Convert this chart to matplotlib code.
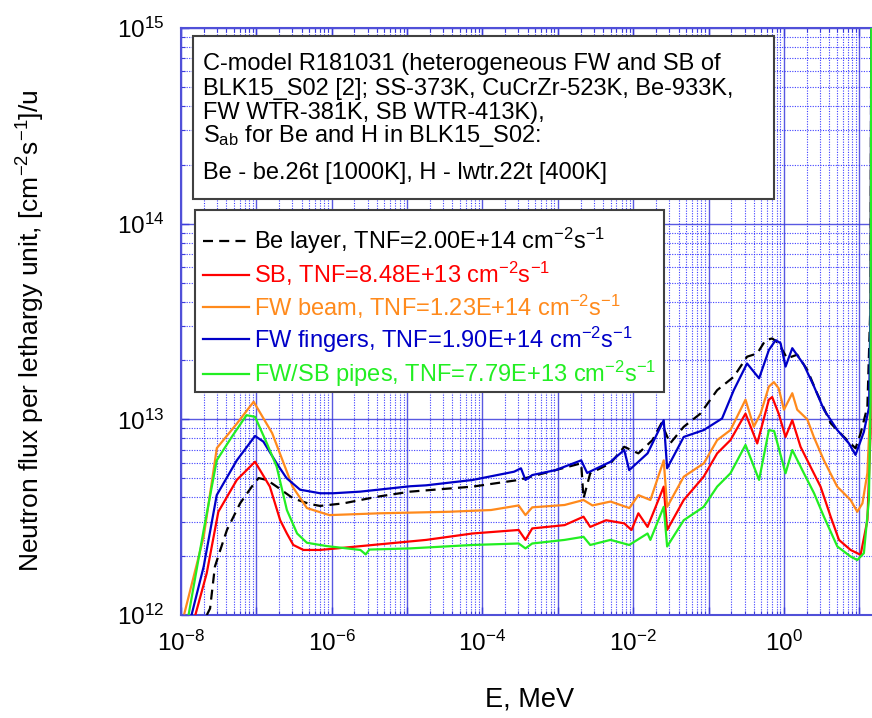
import numpy as np
import matplotlib
matplotlib.use("Agg")
import matplotlib.pyplot as plt
from matplotlib.ticker import LogLocator, FuncFormatter, NullFormatter
from matplotlib.patches import Rectangle
import math

plt.rcParams['font.family'] = ['Liberation Sans', 'DejaVu Sans']
plt.rcParams['mathtext.fontset'] = 'custom'
plt.rcParams['mathtext.rm'] = 'Liberation Sans'
plt.rcParams['mathtext.it'] = 'Liberation Sans:italic'
plt.rcParams['mathtext.bf'] = 'Liberation Sans:bold'

# ---------------- data (E in MeV, flux per lethargy in cm^-2 s^-1) ----------------
be_E = [2.2e-8, 2.43e-8, 2.82e-8, 3.31e-8, 4.07e-8, 6.08e-8, 8.7e-8, 1.07e-7, 1.38e-7, 1.86e-7,
        3.09e-7, 5.13e-7, 7.0e-7, 1.43e-6, 3.98e-6, 1.10e-5, 7.4e-5, 3.02e-4, 9.3e-4, 2.04e-3,
        2.19e-3, 2.69e-3, 5.0e-3, 7.6e-3, 1.17e-2, 1.80e-2, 2.37e-2, 3.09e-2, 4.68e-2, 7.8e-2,
        0.130, 0.216, 0.324, 0.442, 0.569, 0.698, 0.851, 1.10, 1.50, 2.04,
        2.75, 4.17, 6.25, 8.91, 10.4, 12.8, 14.1, 14.5]
be_F = [1.0e12, 1.08e12, 1.77e12, 2.14e12, 2.72e12, 3.72e12, 4.53e12, 5.01e12, 4.90e12, 4.53e12,
        3.94e12, 3.69e12, 3.61e12, 3.72e12, 4.02e12, 4.27e12, 4.53e12, 4.90e12, 5.50e12, 5.96e12,
        3.94e12, 5.30e12, 5.96e12, 7.24e12, 6.70e12, 7.83e12, 9.55e12, 7.53e12, 9.16e12, 1.07e13,
        1.41e13, 1.65e13, 2.09e13, 2.17e13, 2.54e13, 2.59e13, 2.45e13, 2.05e13, 2.14e13, 1.79e13,
        1.36e13, 9.55e12, 8.13e12, 7.11e12, 8.47e12, 1.16e13, 4.07e13, 3e15]

sb_E = [1.55e-8, 2.19e-8, 3.13e-8, 5.5e-8, 9.6e-8, 1.51e-7, 2.07e-7, 2.54e-7, 3.09e-7, 4.21e-7,
        7.0e-7, 1.17e-6, 1.79e-5, 7.4e-5, 3.02e-4, 3.72e-4, 4.57e-4, 1.23e-3, 2.19e-3, 2.69e-3,
        4.37e-3, 7.6e-3, 9.5e-3, 1.17e-2, 1.55e-2, 1.91e-2, 2.54e-2, 2.82e-2, 4.68e-2, 8.6e-2,
        0.130, 0.195, 0.309, 0.442, 0.631, 0.698, 0.851, 1.05, 1.29, 1.66,
        2.25, 3.06, 4.17, 5.37, 7.66, 10.4, 12.8, 14.1, 14.5]
sb_F = [1.0e12, 1.63e12, 3.37e12, 4.90e12, 6.07e12, 4.53e12, 3.05e12, 2.61e12, 2.28e12, 2.15e12,
        2.15e12, 2.19e12, 2.42e12, 2.61e12, 2.72e12, 2.42e12, 2.77e12, 2.88e12, 3.18e12, 2.82e12,
        3.05e12, 2.94e12, 2.72e12, 3.31e12, 2.82e12, 3.44e12, 4.53e12, 2.72e12, 3.87e12, 5.09e12,
        6.70e12, 7.83e12, 1.07e13, 7.53e12, 1.26e13, 1.30e13, 1.07e13, 8.13e12, 9.9e12, 7.24e12,
        5.73e12, 4.53e12, 3.18e12, 2.42e12, 2.15e12, 2.03e12, 3.05e12, 8.51e12, 3e15]

beam_E = [1.11e-8, 2.0e-8, 2.99e-8, 5.5e-8, 9.2e-8, 1.62e-7, 3.02e-7, 4.68e-7, 9.3e-7, 4.37e-6,
          3.63e-5, 1.30e-4, 3.02e-4, 3.72e-4, 4.57e-4, 1.23e-3, 2.19e-3, 2.88e-3, 5.0e-3, 8.9e-3,
          1.17e-2, 1.69e-2, 2.54e-2, 2.82e-2, 4.68e-2, 8.65e-2, 0.130, 0.195, 0.309, 0.398,
          0.490, 0.631, 0.735, 0.851, 1.0, 1.29, 1.50, 2.04, 2.49, 3.39,
          5.09, 7.66, 9.40, 11.0, 12.8, 14.1, 14.5]
beam_F = [1.02e12, 2.51e12, 7.13e12, 9.5e12, 1.23e13, 8.5e12, 4.53e12, 3.52e12, 3.24e12, 3.31e12,
          3.37e12, 3.44e12, 3.63e12, 3.24e12, 3.55e12, 3.65e12, 3.87e12, 3.63e12, 3.80e12, 3.52e12,
          4.10e12, 3.87e12, 6.17e12, 3.57e12, 5.09e12, 5.96e12, 7.83e12, 8.81e12, 1.26e13, 9.16e12,
          1.07e13, 1.47e13, 1.55e13, 1.44e13, 1.12e13, 1.36e13, 1.12e13, 1.0e13, 8.13e12, 6.17e12,
          4.53e12, 3.87e12, 3.37e12, 3.72e12, 5.32e12, 1.26e13, 3e15]

fing_E = [1.38e-8, 2.0e-8, 2.98e-8, 5.5e-8, 9.6e-8, 1.24e-7, 1.86e-7, 2.51e-7, 3.80e-7, 7.0e-7,
          1.05e-6, 2.38e-6, 1.10e-5, 1.79e-5, 7.4e-5, 2.63e-4, 3.24e-4, 3.72e-4, 4.57e-4, 9.3e-4,
          2.04e-3, 2.45e-3, 5.0e-3, 7.6e-3, 8.85e-3, 1.55e-2, 2.54e-2, 2.82e-2, 4.68e-2, 8.6e-2,
          0.151, 0.216, 0.324, 0.468, 0.631, 0.776, 0.902, 1.05, 1.29, 1.84,
          2.51, 3.39, 5.11, 7.29, 8.91, 11.5, 13.5, 14.1, 14.5]
fing_F = [1.0e12, 1.77e12, 4.10e12, 6.17e12, 8.22e12, 7.69e12, 5.96e12, 5.01e12, 4.37e12, 4.19e12,
          4.19e12, 4.27e12, 4.55e12, 4.6e12, 4.90e12, 5.40e12, 5.62e12, 4.90e12, 5.19e12, 5.50e12,
          6.17e12, 5.32e12, 6.07e12, 6.97e12, 5.50e12, 6.70e12, 9.9e12, 5.62e12, 8.13e12, 8.81e12,
          1.01e13, 1.41e13, 1.93e13, 1.62e13, 2.26e13, 2.54e13, 2.45e13, 1.86e13, 2.31e13, 1.90e13,
          1.47e13, 1.12e13, 8.81e12, 7.53e12, 6.58e12, 8.63e12, 1.16e13, 4.07e13, 3e15]

pipe_E = [1.26e-8, 2.0e-8, 2.98e-8, 4.71e-8, 7.4e-8, 9.6e-8, 1.38e-7, 1.86e-7, 2.54e-7, 3.47e-7,
          4.68e-7, 8.6e-7, 2.40e-6, 2.82e-6, 3.16e-6, 1.10e-5, 7.4e-5, 3.02e-4, 3.72e-4, 4.57e-4,
          1.23e-3, 2.19e-3, 2.69e-3, 5.0e-3, 8.85e-3, 1.55e-2, 1.69e-2, 2.54e-2, 2.82e-2, 4.68e-2,
          8.6e-2, 0.130, 0.195, 0.309, 0.468, 0.631, 0.741, 1.05, 1.29, 1.84,
          2.51, 3.39, 5.11, 7.66, 9.40, 11.5, 13.4, 14.1, 14.5]
pipe_F = [1.0e12, 2.72e12, 6.17e12, 8.13e12, 1.05e13, 1.03e13, 7.53e12, 5.73e12, 3.44e12, 2.61e12,
          2.34e12, 2.25e12, 2.15e12, 2.04e12, 2.16e12, 2.19e12, 2.28e12, 2.32e12, 2.19e12, 2.32e12,
          2.42e12, 2.51e12, 2.28e12, 2.42e12, 2.28e12, 2.61e12, 2.42e12, 3.57e12, 2.24e12, 3.05e12,
          3.57e12, 4.53e12, 5.30e12, 7.40e12, 4.90e12, 8.81e12, 8.71e12, 5.30e12, 6.97e12, 5.30e12,
          4.19e12, 3.18e12, 2.24e12, 1.99e12, 1.91e12, 2.07e12, 3.87e12, 1.26e13, 3e15]

labels = [r'Be layer, TNF=2.00E+14 cm$^{-2}$s$^{-1}$',
          r'SB, TNF=8.48E+13 cm$^{-2}$s$^{-1}$',
          r'FW beam, TNF=1.23E+14 cm$^{-2}$s$^{-1}$',
          r'FW fingers, TNF=1.90E+14 cm$^{-2}$s$^{-1}$',
          r'FW/SB pipes, TNF=7.79E+13 cm$^{-2}$s$^{-1}$']

info_lines = ['C-model R181031 (heterogeneous FW and SB of',
              'BLK15_S02 [2]; SS-373K, CuCrZr-523K, Be-933K,',
              'FW WTR-381K, SB WTR-413K),',
              r'S$_{\mathregular{ab}}$ for Be and H in BLK15_S02:',
              'Be - be.26t [1000K], H - lwtr.22t [400K]']

x_lim = (1e-8, 2e1)
y_lim = (1e12, 1e15)

# ---------------- figure ----------------
W, H = 872, 718
fig = plt.figure(figsize=(W / 100, H / 100), dpi=100)
ax = fig.add_axes([181 / W, (H - 615) / H, 701 / W, 587 / H])

def fx(px):
    return px / W

def fy(py):
    return 1 - py / H

ax.set_xscale('log')
ax.set_yscale('log')
ax.set_xlim(*x_lim)
ax.set_ylim(*y_lim)

lw = 1.6
series = [
    (be_E, be_F, 'black', (0, (4.5, 2.8))),
    (sb_E, sb_F, '#ff0000', '-'),
    (beam_E, beam_F, '#ff8a1c', '-'),
    (fing_E, fing_F, '#0000c8', '-'),
    (pipe_E, pipe_F, '#22ee22', '-'),
]
handles = []
for (e, f, c, ls), lab in zip(series, labels):
    h, = ax.plot(e, f, color=c, ls=ls, lw=lw, label=lab, zorder=3)
    handles.append(h)

# ticks / grid
ax.xaxis.set_major_locator(LogLocator(base=10, numticks=30))
ax.xaxis.set_minor_locator(LogLocator(base=10, subs=np.arange(2, 10), numticks=300))
ax.yaxis.set_major_locator(LogLocator(base=10, numticks=30))
ax.yaxis.set_minor_locator(LogLocator(base=10, subs=np.arange(2, 10), numticks=300))

def xfmt(v, pos):
    e = int(round(math.log10(v)))
    if e % 2 == 0 and -8 <= e <= 0:
        return r'$\mathregular{10^{%d}}$' % e
    return ''

def yfmt(v, pos):
    e = int(round(math.log10(v)))
    return r'$\mathregular{10^{%d}}$' % e

ax.xaxis.set_major_formatter(FuncFormatter(xfmt))
ax.yaxis.set_major_formatter(FuncFormatter(yfmt))
ax.xaxis.set_minor_formatter(NullFormatter())
ax.yaxis.set_minor_formatter(NullFormatter())

grid_c = '#3c3cdc'
ax.grid(which='major', color=grid_c, lw=1.0, ls='-', alpha=0.85, zorder=1)
ax.grid(which='minor', color='#2a2aff', lw=0.8, ls=(0, (1, 1.3)), alpha=0.9, zorder=1)
ax.set_axisbelow(True)

ax.tick_params(which='both', direction='in', top=True, right=True, color=grid_c)
ax.tick_params(which='major', length=6, width=1.0, labelsize=17.5)
ax.tick_params(which='minor', length=3, width=0.8)
ax.tick_params(axis='x', which='major', pad=11)
ax.tick_params(axis='y', which='major', pad=12)
for s in ax.spines.values():
    s.set_color('#5050d8')
    s.set_linewidth(1.5)

# axis labels
fig.text(fx(31), fy(331), r'Neutron flux per lethargy unit, [cm$^{-2}$s$^{-1}$]/u',
         rotation=90, ha='center', va='center', fontsize=19)
fig.text(fx(530), fy(700), 'E, MeV', ha='center', va='center', fontsize=19.5)

# info box
ax.add_patch(Rectangle((fx(193), fy(199)), fx(774) - fx(193), fy(36) - fy(199),
                       transform=fig.transFigure, clip_on=False, facecolor='white',
                       edgecolor='#404040', lw=1.5, zorder=10))
baselines = [70, 95, 119, 142, 179]
for txt, b in zip(info_lines, baselines):
    fig.text(fx(203), fy(b), txt, ha='left', va='baseline', fontsize=17, zorder=11)

# legend box
ax.add_patch(Rectangle((fx(195), fy(392)), fx(664) - fx(195), fy(210) - fy(392),
                       transform=fig.transFigure, clip_on=False, facecolor='white',
                       edgecolor='#404040', lw=1.5, zorder=10))
leg = ax.legend(handles=handles, loc='upper left', bbox_to_anchor=(fx(203), fy(226)),
                bbox_transform=fig.transFigure, frameon=False, fontsize=17,
                handlelength=1.95, handletextpad=0.22, labelspacing=0.17,
                borderpad=0, borderaxespad=0, labelcolor='linecolor')
leg.set_zorder(12)

fig.savefig('out.png', dpi=100)
